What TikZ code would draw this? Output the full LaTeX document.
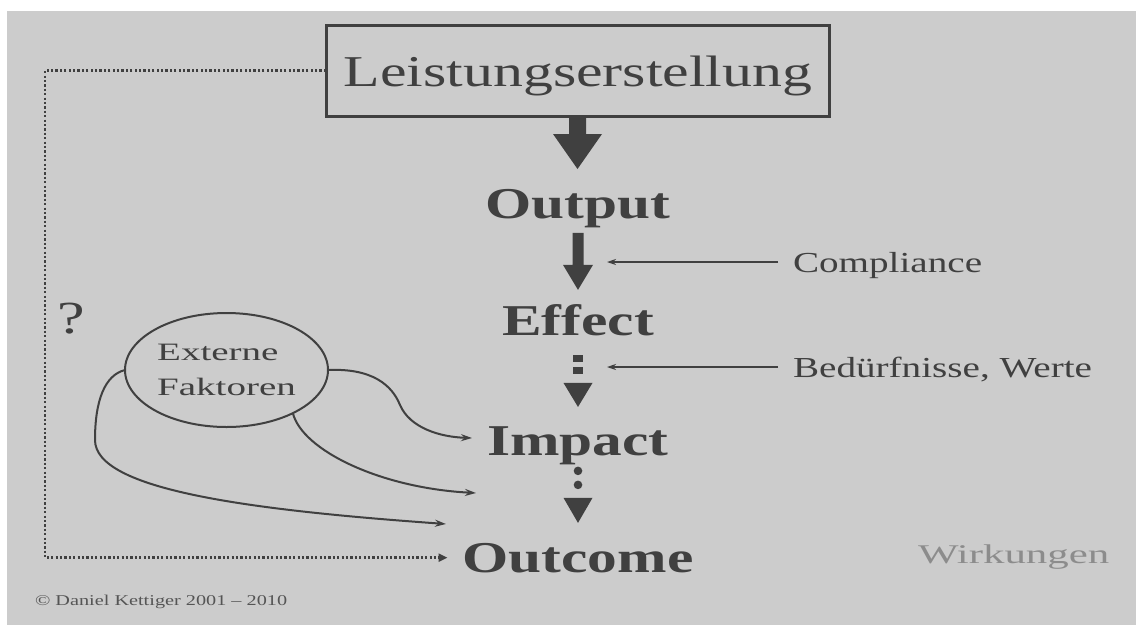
\documentclass[tikz,border=0pt]{standalone}
\usepackage{fontspec}
\setmainfont{Liberation Serif}
\usetikzlibrary{arrows.meta,shapes.geometric,calc}
\definecolor{bg}{RGB}{204,204,204}
\definecolor{ink}{RGB}{64,64,64}
\definecolor{soft}{RGB}{140,140,140}
\newcommand{\hs}[1]{\scalebox{1.35}[1]{#1}}
\newcommand{\fsz}[2]{\fontsize{#1}{#2}\selectfont}
\begin{document}
\begin{tikzpicture}[x=1pt,y=-1pt,
  every node/.style={inner sep=0pt, outer sep=0pt, text=ink},
  stage/.style={anchor=base, font=\fsz{44}{50}\bfseries},
  side/.style={anchor=base west, font=\fsz{29}{34}},
  feed/.style={draw=ink, line width=1.6pt, -{Stealth[length=9pt,width=6pt]}},
  link/.style={draw=ink, line width=2pt, -{Stealth[length=11pt,width=7pt]}},
  dots/.style={draw=ink, line width=2.6pt, dash pattern=on 2.2pt off 2.2pt, -{Triangle[length=9pt,width=8pt]}}
]
\useasboundingbox (0,0) rectangle (1136,625);
\fill[white] (0,0) rectangle (1136,625);
\fill[bg] (7,11) rectangle (1136,625);

% top box
\node[draw=ink, line width=3pt, minimum width=503pt, minimum height=91pt] (lei) at (577.5,70.5) {};
\node[anchor=base, font=\fsz{44}{50}] (leit) at (578,86) {\scalebox{1.36}[1]{Leistungserstellung}};

% stages
\node[stage] (out) at (578,218) {\hs{Output}};
\node[stage] (eff) at (578,335) {\hs{Effect}};
\node[stage] (imp) at (578,455) {\hs{Impact}};
\node[stage] (outc) at (578,572) {\hs{Outcome}};

% big arrow box -> Output
\fill[ink] (lei.south) ++(-8.5,0) -- ++(0,18) -- ++(-16,0) -- ++(24.5,35) -- ++(24.5,-35) -- ++(-16,0) -- ++(0,-18) -- cycle;
% Output -> Effect
\fill[ink] ($(out.south)+(-5.5,5.5)$) -- ++(0,32) -- ++(-9.5,0) -- ++(15,25) -- ++(15,-25) -- ++(-9.5,0) -- ++(0,-32) -- cycle;
% Effect -> Impact (dashed)
\fill[ink] ($(eff.south)+(-5,19.5)$) rectangle ++(10,7);
\fill[ink] ($(eff.south)+(-5,31.5)$) rectangle ++(10,7);
\fill[ink] ($(eff.south)+(-14.5,47.5)$) -- ++(29,0) -- ++(-14.5,24) -- cycle;
% Impact -> Outcome (dotted)
\fill[ink] ($(imp.south)+(0,6.5)$) circle[radius=4.3pt];
\fill[ink] ($(imp.south)+(0,20.5)$) circle[radius=4.3pt];
\fill[ink] ($(imp.south)+(-14.5,33.5)$) -- ++(29,0) -- ++(-14.5,25) -- cycle;

% side influences
\node[side] (comp) at (793,272) {\hs{Compliance}};
\node[side] (need) at (793,377) {\hs{Bedürfnisse, Werte}};
\coordinate (c1) at (607,262);
\coordinate (c2) at (607,367);
\draw[feed] ($(comp.base west)+(-15,-10)$) -- (c1);
\draw[feed] ($(need.base west)+(-15,-10)$) -- (c2);

% feedback dotted line
\draw[dots] (lei.west) -- ++(-281,0) |- ([xshift=-15pt]outc.west);

% question mark
\node[anchor=base west, font=\fsz{46}{50}] (q) at (57,333) {\hs{?}};

% external factors
\node[ellipse, draw=ink, line width=2pt, minimum width=203pt, minimum height=114pt,
      align=left, font=\fsz{25}{35}] (ext) at (226.5,370) {\scalebox{1.56}[1]{Externe}\\\scalebox{1.56}[1]{Faktoren}};
\coordinate (i1) at (472,438);
\coordinate (i2) at (476,493);
\coordinate (i3) at (446,524);
\draw[link] (ext.east) .. controls (372,368) and (392,385) .. (400,405)
            .. controls (410,428) and (440,437) .. (i1);
\draw[link] (ext.-33) .. controls (302,450) and (380,488) .. (i2);
\draw[link] (ext.west) .. controls (105,375) and (95,400) .. (95,440)
            .. controls (95,490) and (250,510) .. (i3);

% labels
\node[anchor=base west, font=\fsz{27}{30}, text=soft] (wirk) at (918,563) {\scalebox{1.59}[1]{Wirkungen}};
\node[anchor=base west, font=\fsz{15}{18}, text=ink!85!bg] (copy) at (35,605) {\hs{© Daniel Kettiger 2001 – 2010}};
\end{tikzpicture}
\end{document}
